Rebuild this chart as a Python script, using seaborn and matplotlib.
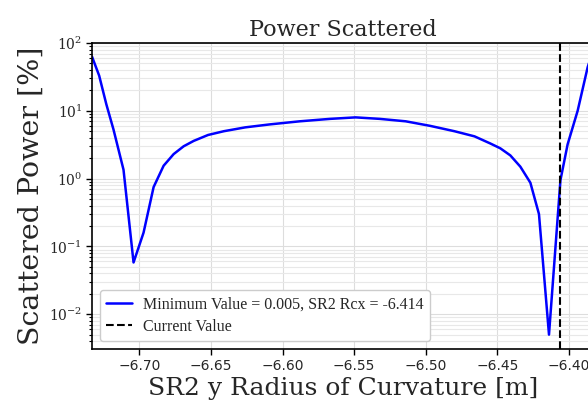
import numpy as np
import pandas as pd
import matplotlib
matplotlib.use('Agg')
import matplotlib.pyplot as plt
import seaborn as sns
from matplotlib.ticker import LogLocator, NullFormatter

# ── Data ────────────────────────────────────────────────────────────────────
radius = [-6.733, -6.728, -6.723, -6.718, -6.711, -6.704, -6.697, -6.690,
          -6.683, -6.676, -6.669, -6.662, -6.652, -6.641, -6.626, -6.609,
          -6.588, -6.567, -6.549, -6.532, -6.514, -6.497, -6.480, -6.466,
          -6.455, -6.448, -6.441, -6.434, -6.427, -6.421, -6.414, -6.406,
          -6.401, -6.394, -6.387, -6.383]
scattered = [63, 33, 12.5, 5.3, 1.35, 0.058, 0.16, 0.75,
             1.55, 2.3, 3.0, 3.6, 4.4, 5.0, 5.7, 6.3,
             7.0, 7.6, 8.0, 7.6, 7.0, 6.0, 5.0, 4.2,
             3.3, 2.8, 2.2, 1.5, 0.87, 0.3, 0.005, 0.95,
             3.2, 10, 44, 80]
current_value = -6.406
min_label = 'Minimum Value = 0.005, SR2 Rcx = -6.414'

df = pd.DataFrame({'radius': radius, 'scattered': scattered})

# ── Style ───────────────────────────────────────────────────────────────────
sns.set_theme(style='whitegrid')
plt.rcParams['font.family'] = ['DejaVu Serif']
plt.rcParams['mathtext.fontset'] = 'dejavuserif'

fig = plt.figure(figsize=(5.88, 4.04), dpi=100)
ax = fig.add_axes([92 / 588, 1 - 349 / 404, (593.4 - 92) / 588, (349 - 43) / 404])

sns.lineplot(data=df, x='radius', y='scattered', ax=ax, color='blue',
             lw=1.8, label=min_label)
ax.axvline(current_value, color='black', ls='--', lw=1.5, label='Current Value')

ax.set_yscale('log')
ax.set_xlim(-6.733, -6.383)
ax.set_ylim(0.00307, 100)
ax.yaxis.set_major_locator(LogLocator(base=10, numticks=10))
ax.yaxis.set_minor_locator(LogLocator(base=10, subs=np.arange(2, 10), numticks=10))
ax.yaxis.set_minor_formatter(NullFormatter())

ax.grid(True, which='major', color='#dddddd', lw=0.8)
ax.grid(True, which='minor', axis='y', color='#e8e8e8', lw=0.8)
for side in ['left', 'bottom', 'top']:
    ax.spines[side].set_color('black')
    ax.spines[side].set_linewidth(1.2)
ax.spines['right'].set_visible(False)

ax.tick_params(axis='both', which='major', direction='out', length=4,
               width=1, color='black', left=True, bottom=True, pad=3)
ax.tick_params(axis='y', which='minor', direction='out', length=2.5,
               width=0.8, color='black', left=True)
ax.tick_params(axis='y', labelsize=10)
for lab in ax.get_xticklabels():
    lab.set_fontfamily('DejaVu Sans')
    lab.set_fontsize(10)

ax.set_title('Power Scattered', fontsize=16, pad=5)
ax.set_xlabel('SR2 y Radius of Curvature [m]', fontsize=18, labelpad=3)
ax.set_ylabel('Scattered Power [%]', fontsize=20.5, labelpad=3)

ax.legend(loc='lower left', prop={'family': 'Liberation Serif', 'size': 11.5},
          frameon=True, framealpha=1, edgecolor='#cccccc', fancybox=True,
          borderpad=0.4, handlelength=1.6, handletextpad=0.7,
          labelspacing=0.4)

fig.savefig('out.png', dpi=100)
